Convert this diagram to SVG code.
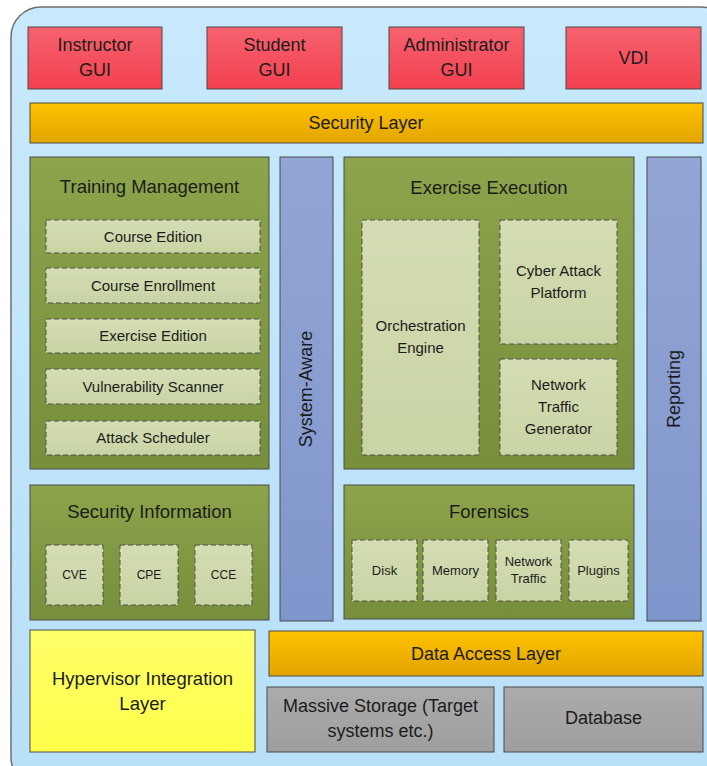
<svg xmlns="http://www.w3.org/2000/svg" width="707" height="766" viewBox="0 0 707 766">
<defs>
<linearGradient id="gRed" x1="0" y1="0" x2="0" y2="1"><stop offset="0" stop-color="#F6626F"/><stop offset="1" stop-color="#F3404F"/></linearGradient>
<linearGradient id="gOrange" x1="0" y1="0" x2="0" y2="1"><stop offset="0" stop-color="#FDC200"/><stop offset="1" stop-color="#E3A500"/></linearGradient>
<linearGradient id="gGreen" x1="0" y1="0" x2="0" y2="1"><stop offset="0" stop-color="#8CA44B"/><stop offset="1" stop-color="#778E3B"/></linearGradient>
<linearGradient id="gInner" x1="0" y1="0" x2="0" y2="1"><stop offset="0" stop-color="#D4DDB3"/><stop offset="1" stop-color="#C9D4A5"/></linearGradient>
<linearGradient id="gBlue" x1="0" y1="0" x2="0" y2="1"><stop offset="0" stop-color="#93A5D4"/><stop offset="1" stop-color="#7F96CC"/></linearGradient>
<linearGradient id="gGray" x1="0" y1="0" x2="0" y2="1"><stop offset="0" stop-color="#ABABAB"/><stop offset="1" stop-color="#9E9E9E"/></linearGradient>
<linearGradient id="gYellow" x1="0" y1="0" x2="0" y2="1"><stop offset="0" stop-color="#FFFF6A"/><stop offset="1" stop-color="#FFFF4A"/></linearGradient>
<linearGradient id="gBg" x1="0" y1="0" x2="0" y2="1"><stop offset="0" stop-color="#C8E9FB"/><stop offset="1" stop-color="#B8E0F8"/></linearGradient>
</defs>
<style>
text{font-family:"Liberation Sans",Arial,sans-serif;fill:#1c1c1c;text-anchor:middle}
.box{stroke:#4a4a4a;stroke-width:1}
.red{fill:url(#gRed)}
.orange{fill:url(#gOrange)}
.green{fill:url(#gGreen)}
.blue{fill:url(#gBlue)}
.gray{fill:url(#gGray)}
.yellow{fill:url(#gYellow)}
.inner{fill:url(#gInner);stroke:#4f4f4f;stroke-width:1;stroke-dasharray:5,3}
.t19{font-size:18.5px}
.t18{font-size:18px}
.t15{font-size:15px}
.t13{font-size:13px}
.t12{font-size:12px}
</style>
<rect x="11" y="7" width="720" height="780" rx="30" ry="30" fill="url(#gBg)" stroke="#6f6f6f" stroke-width="1.5"/>

<g id="instructor-gui"><rect class="box red" x="28" y="27" width="134" height="62"/><text class="t18" x="95" y="51">Instructor</text><text class="t18" x="95" y="76">GUI</text></g>
<g id="student-gui"><rect class="box red" x="207" y="27" width="135" height="62"/><text class="t18" x="274.5" y="51">Student</text><text class="t18" x="274.5" y="76">GUI</text></g>
<g id="administrator-gui"><rect class="box red" x="389" y="27" width="135" height="62"/><text class="t18" x="456.5" y="51">Administrator</text><text class="t18" x="456.5" y="76">GUI</text></g>
<g id="vdi"><rect class="box red" x="566" y="27" width="135" height="62"/><text class="t18" x="633.5" y="64">VDI</text></g>

<g id="security-layer"><rect class="box orange" x="30" y="103" width="673" height="40"/><text class="t18" x="366" y="129">Security Layer</text></g>

<g id="training-management"><rect class="box green" x="30" y="157" width="239" height="312"/><text class="t19" x="149.5" y="193">Training Management</text>
<g id="course-edition"><rect class="inner" x="46" y="220" width="214" height="33"/><text class="t15" x="153" y="242">Course Edition</text></g>
<g id="course-enrollment"><rect class="inner" x="46" y="268" width="214" height="35"/><text class="t15" x="153" y="291">Course Enrollment</text></g>
<g id="exercise-edition"><rect class="inner" x="46" y="319" width="214" height="34"/><text class="t15" x="153" y="341">Exercise Edition</text></g>
<g id="vulnerability-scanner"><rect class="inner" x="46" y="369" width="214" height="35"/><text class="t15" x="153" y="392">Vulnerability Scanner</text></g>
<g id="attack-scheduler"><rect class="inner" x="46" y="421" width="214" height="34"/><text class="t15" x="153" y="443">Attack Scheduler</text></g>
</g>

<g id="system-aware"><rect class="box blue" x="280" y="157" width="53" height="464"/><text class="t18" transform="translate(312,389) rotate(-90)">System-Aware</text></g>

<g id="exercise-execution"><rect class="box green" x="344" y="157" width="290" height="312"/><text class="t19" x="489" y="194">Exercise Execution</text>
<g id="orchestration-engine"><rect class="inner" x="362" y="220" width="117" height="235"/><text class="t15" x="420.5" y="331">Orchestration</text><text class="t15" x="420.5" y="353">Engine</text></g>
<g id="cyber-attack-platform"><rect class="inner" x="500" y="220" width="117" height="124"/><text class="t15" x="558.5" y="276">Cyber Attack</text><text class="t15" x="558.5" y="298">Platform</text></g>
<g id="network-traffic-generator"><rect class="inner" x="500" y="359" width="117" height="96"/><text class="t15" x="558.5" y="390">Network</text><text class="t15" x="558.5" y="412">Traffic</text><text class="t15" x="558.5" y="434">Generator</text></g>
</g>

<g id="reporting"><rect class="box blue" x="647" y="157" width="54" height="464"/><text class="t18" transform="translate(680,389) rotate(-90)">Reporting</text></g>

<g id="security-information"><rect class="box green" x="30" y="485" width="239" height="135"/><text class="t19" x="149.5" y="518">Security Information</text>
<g id="cve"><rect class="inner" x="46" y="545" width="57" height="60"/><text class="t12" x="74.5" y="579">CVE</text></g>
<g id="cpe"><rect class="inner" x="120" y="545" width="58" height="60"/><text class="t12" x="149" y="579">CPE</text></g>
<g id="cce"><rect class="inner" x="195" y="545" width="57" height="60"/><text class="t12" x="223.5" y="579">CCE</text></g>
</g>

<g id="forensics"><rect class="box green" x="344" y="485" width="290" height="134"/><text class="t19" x="489" y="518">Forensics</text>
<g id="disk"><rect class="inner" x="352" y="540" width="65" height="61"/><text class="t13" x="384.5" y="575">Disk</text></g>
<g id="memory"><rect class="inner" x="423" y="540" width="65" height="61"/><text class="t13" x="455.5" y="575">Memory</text></g>
<g id="network-traffic"><rect class="inner" x="496" y="540" width="65" height="61"/><text class="t13" x="528.5" y="566">Network</text><text class="t13" x="528.5" y="583">Traffic</text></g>
<g id="plugins"><rect class="inner" x="569" y="540" width="59" height="61"/><text class="t13" x="598.5" y="575">Plugins</text></g>
</g>

<g id="hypervisor-integration-layer"><rect class="box yellow" x="30" y="630" width="225" height="122"/><text class="t19" x="142.5" y="685">Hypervisor Integration</text><text class="t19" x="142.5" y="710">Layer</text></g>

<g id="data-access-layer"><rect class="box orange" x="269" y="631" width="434" height="45"/><text class="t18" x="486" y="660">Data Access Layer</text></g>

<g id="massive-storage"><rect class="box gray" x="267" y="687" width="227" height="65"/><text class="t18" x="380.5" y="712">Massive Storage (Target</text><text class="t18" x="380.5" y="737">systems etc.)</text></g>
<g id="database"><rect class="box gray" x="504" y="687" width="199" height="65"/><text class="t18" x="603.5" y="724">Database</text></g>

<g id="connectors"></g>
</svg>
